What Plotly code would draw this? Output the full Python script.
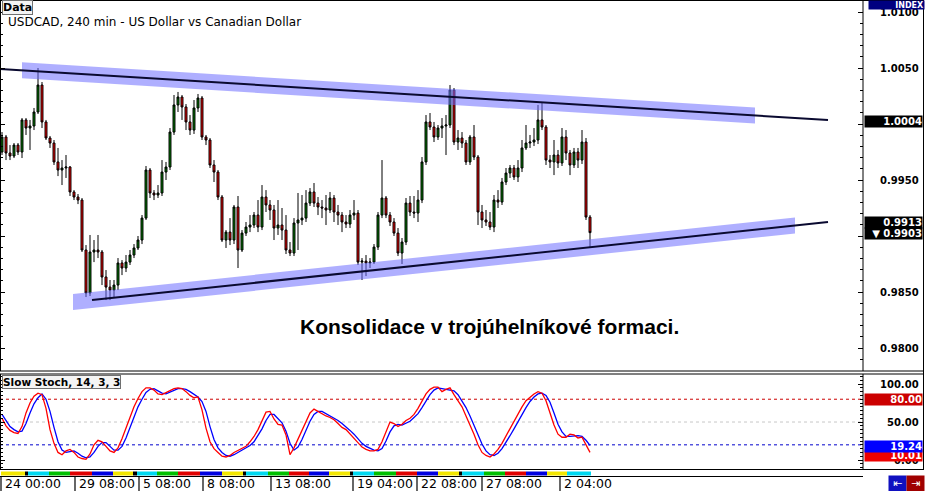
import plotly.graph_objects as go

# ---------------- data ----------------
bars = list(range(148))

open_prices = [
0.99750,0.99884,0.99741,0.99714,0.99812,0.99750,1.00036,0.99964,0.99982,1.00107,
1.00348,1.00018,0.99875,0.99830,0.99661,0.99589,0.99607,0.99616,0.99393,0.99348,
0.99321,0.98875,0.98491,0.98857,0.98875,0.98857,0.98634,0.98544,0.98517,0.98562,
0.98759,0.98714,0.98767,0.98830,0.98893,0.98964,0.99160,0.99589,0.99384,0.99366,
0.99384,0.99571,0.99616,0.99928,1.00170,1.00241,1.00152,1.00018,0.99946,1.00143,
1.00232,0.99884,0.99857,0.99634,0.99571,0.99348,0.98964,0.99035,0.98964,0.99259,
0.98875,0.99026,0.99080,0.99098,0.99187,0.99080,0.99348,0.99277,0.99232,0.99071,
0.99098,0.99053,0.98875,0.98848,0.99116,0.99143,0.99160,0.99294,0.99393,0.99294,
0.99259,0.99250,0.99232,0.99339,0.99214,0.99187,0.99125,0.99107,0.99187,0.99205,
0.98767,0.98776,0.98759,0.98767,0.98901,0.99187,0.99339,0.99187,0.99125,0.99026,
0.98848,0.98946,0.99294,0.99214,0.99205,0.99321,0.99661,1.00018,0.99973,0.99884,
0.99964,0.99982,0.99991,1.00303,0.99839,0.99875,0.99830,0.99661,0.99884,0.99705,
0.99214,0.99143,0.99125,0.99080,0.99321,0.99303,0.99482,0.99562,0.99607,0.99527,
0.99607,0.99786,0.99830,0.99839,0.99857,1.00036,0.99973,0.99678,0.99661,0.99723,
0.99652,0.99884,0.99741,0.99634,0.99750,0.99678,0.99839,0.99169]

high_prices = [
0.99928,0.99902,0.99812,0.99830,0.99830,1.00053,1.00053,1.00036,1.00143,1.00500,
1.00375,1.00036,0.99893,0.99857,0.99786,0.99678,0.99723,0.99625,0.99410,0.99375,
0.99339,0.98919,0.99009,0.98964,0.99009,0.98875,0.98696,0.98607,0.98607,0.98803,
0.98785,0.98830,0.98875,0.98928,0.99000,0.99187,0.99625,0.99607,0.99410,0.99455,
0.99678,0.99661,0.99964,1.00259,1.00286,1.00259,1.00178,1.00080,1.00214,1.00268,
1.00250,0.99902,0.99875,0.99678,0.99589,0.99366,0.99053,0.99160,0.99277,0.99357,
0.99053,0.99125,0.99187,0.99214,0.99321,0.99455,0.99410,0.99321,0.99277,0.99321,
0.99250,0.99187,0.98946,0.99160,0.99384,0.99366,0.99410,0.99428,0.99473,0.99348,
0.99321,0.99366,0.99393,0.99366,0.99277,0.99214,0.99187,0.99232,0.99321,0.99232,
0.98803,0.98830,0.98803,0.98928,0.99214,0.99678,0.99357,0.99214,0.99160,0.99071,
0.98982,0.99339,0.99357,0.99357,0.99410,0.99705,1.00080,1.00098,1.00018,0.99991,
1.00053,1.00080,1.00348,1.00321,0.99946,0.99928,0.99857,0.99902,0.99991,0.99723,
0.99277,0.99232,0.99214,0.99366,0.99410,0.99518,0.99607,0.99634,0.99634,0.99678,
0.99857,0.99991,0.99902,0.99964,1.00170,1.00187,0.99991,0.99723,0.99857,0.99768,
0.99964,0.99946,0.99768,0.99786,0.99786,0.99946,0.99875,0.99187]

low_prices = [
0.99723,0.99678,0.99678,0.99696,0.99723,0.99696,0.99902,0.99768,0.99946,1.00089,
0.99964,0.99857,0.99786,0.99634,0.99535,0.99455,0.99518,0.99357,0.99321,0.99285,
0.98857,0.98455,0.98464,0.98767,0.98803,0.98562,0.98428,0.98428,0.98446,0.98517,
0.98651,0.98678,0.98741,0.98803,0.98875,0.98928,0.99143,0.99339,0.99321,0.99339,
0.99357,0.99500,0.99589,0.99902,1.00107,1.00036,0.99946,0.99902,0.99911,1.00107,
0.99857,0.99812,0.99607,0.99482,0.99321,0.98946,0.98893,0.98919,0.98928,0.98714,
0.98857,0.99000,0.99035,0.99071,0.99035,0.99053,0.99214,0.99143,0.98964,0.99009,
0.98964,0.98839,0.98821,0.98821,0.98875,0.99098,0.99125,0.99268,0.99259,0.99187,
0.99160,0.99098,0.99205,0.99125,0.99098,0.99035,0.99071,0.99071,0.99143,0.98741,
0.98607,0.98642,0.98714,0.98750,0.98875,0.99160,0.99160,0.99089,0.99000,0.98821,
0.98750,0.98919,0.99178,0.99160,0.99125,0.99294,0.99634,0.99946,0.99839,0.99857,
0.99875,0.99723,0.99964,0.99812,0.99768,0.99786,0.99634,0.99634,0.99678,0.99098,
0.99071,0.99089,0.99053,0.99035,0.99250,0.99277,0.99455,0.99518,0.99500,0.99482,
0.99571,0.99768,0.99786,0.99803,0.99821,0.99946,0.99634,0.99607,0.99544,0.99607,
0.99625,0.99678,0.99544,0.99607,0.99607,0.99643,0.99143,0.98893]

close_prices = [
0.99884,0.99741,0.99714,0.99812,0.99750,1.00036,0.99964,0.99982,1.00107,1.00348,
1.00018,0.99875,0.99830,0.99661,0.99589,0.99607,0.99616,0.99393,0.99348,0.99321,
0.98875,0.98491,0.98857,0.98875,0.98857,0.98634,0.98544,0.98517,0.98562,0.98759,
0.98714,0.98767,0.98830,0.98893,0.98964,0.99160,0.99589,0.99384,0.99366,0.99384,
0.99571,0.99616,0.99928,1.00170,1.00241,1.00152,1.00018,0.99946,1.00143,1.00232,
0.99884,0.99857,0.99634,0.99571,0.99348,0.98964,0.99035,0.98964,0.99259,0.98875,
0.99026,0.99080,0.99098,0.99187,0.99080,0.99348,0.99277,0.99232,0.99071,0.99098,
0.99053,0.98875,0.98848,0.99116,0.99143,0.99160,0.99294,0.99393,0.99294,0.99259,
0.99250,0.99232,0.99339,0.99214,0.99187,0.99125,0.99107,0.99187,0.99205,0.98767,
0.98776,0.98759,0.98767,0.98901,0.99187,0.99339,0.99187,0.99125,0.99026,0.98848,
0.98946,0.99294,0.99214,0.99205,0.99321,0.99661,1.00018,0.99973,0.99884,0.99964,
0.99982,0.99991,1.00303,0.99839,0.99875,0.99830,0.99661,0.99884,0.99705,0.99214,
0.99143,0.99125,0.99080,0.99321,0.99303,0.99482,0.99562,0.99607,0.99527,0.99607,
0.99786,0.99830,0.99839,0.99857,1.00036,0.99973,0.99678,0.99661,0.99723,0.99652,
0.99884,0.99741,0.99634,0.99750,0.99678,0.99839,0.99169,0.99030]

stoch_main = [
55,45,39,36,35,44,62,75,84,88,
86,68,40,22,10,7,12,14,10,4,
2,1,8,20,26,24,18,12,10,16,
28,42,58,70,81,90,95,95,92,87,
86,89,92,94,95,94,90,85,82,83,
66,42,24,15,10,5,4,6,10,13,
15,18,24,31,40,52,63,64,54,47,
46,33,7,16,28,40,52,62,67,64,
60,58,56,53,48,43,40,34,28,22,
17,14,12,12,14,24,38,50,48,44,
47,52,55,60,68,78,87,93,96,96,
90,93,95,86,78,70,58,47,34,20,
10,6,4,8,14,22,32,42,50,60,
70,78,83,87,90,88,78,62,46,34,
30,30,34,33,29,30,20,10.01]

stoch_signal = [
60,52,44,40,37,38,48,62,74,82,
87,80,64,43,24,13,10,11,12,9,
5,3,4,10,18,23,23,18,13,13,
18,29,43,57,70,80,89,93,94,91,
88,87,89,92,94,94,93,90,86,83,
77,64,44,27,16,10,6,5,7,10,
13,15,19,24,32,41,52,60,60,55,
49,38,22,13,17,27,40,51,60,64,
64,61,58,56,52,48,44,39,34,28,
22,18,15,13,12,15,25,37,45,47,
46,48,51,56,61,69,78,86,92,95,
94,93,93,91,86,78,69,58,46,34,
21,12,7,6,9,15,23,32,41,51,
60,69,77,83,87,88,85,76,62,47,
37,31,31,32,32,31,26,19.24]

price_tick_vals = [0.9800, 0.9850, 0.9900, 0.9950, 1.0000, 1.0050, 1.0100]
price_tick_text = ["0.9800", "0.9850", "", "0.9950", "", "1.0050", "1.0100"]
stoch_tick_vals = [0, 50, 100]
stoch_tick_text = ["0.00", "50.00", "100.00"]
stoch_levels = [80, 50, 20]
stoch_level_colors = ["#cc0000", "#c8c8c8", "#0000cc"]

date_tick_bars = [-0.25, 18.25, 34.25, 50.25, 67.25, 87.75, 103.75, 120.0, 139.5]
date_tick_text = ["24 00:00", "29 08:00", "5 08:00", "8 08:00", "13 08:00",
                  "19 04:00", "22 08:00", "27 08:00", "2 04:00"]

upper_trend_x = [-0.5, 206.5]
upper_trend_y = [1.00491, 1.00036]
lower_trend_x = [22.5, 206.5]
lower_trend_y = [0.98428, 0.99125]
upper_band_x = [5.0, 188.25]
lower_band_x = [17.75, 198.25]

strip_edges = [-0.25, 5.75, 6.5, 11.75, 17.0, 22.5, 27.75, 32.75, 33.75, 38.75, 44.0,
               49.5, 55.0, 60.25, 61.0, 66.5, 71.75, 76.75, 81.75, 87.0, 87.75, 93.0,
               98.5, 103.75, 109.0, 114.25, 115.0, 120.5, 125.75, 131.0, 136.25,
               141.25, 147.25]
strip_codes = ["Y", "K"] + ["C", "G", "R", "B", "Y", "K"] * 4 + ["C", "G", "R", "B", "Y", "C"]
strip_palette = {"Y": "#f2e600", "K": "#000000", "C": "#00d8f0", "G": "#00c000",
                 "R": "#e00000", "B": "#0000e0"}

upper_line_label = 1.0004
lower_line_label = 0.9913
last_close_label = 0.9903

# ---------------- geometry helpers ----------------
W, H = 925, 491
PW, PH = 863, 469            # plot area (margin r=62, b=22)
PRICE_RANGE = [0.977946, 1.011071]
STOCH_RANGE = [-11.8, 113.2]
PRICE_DOMAIN = [(PH - 371) / PH, 1.0]
STOCH_DOMAIN = [0.0, (PH - 374) / PH]


def pxx(x):
    return x / PW


def pxy(y):
    return (PH - y) / PH


def line_at(xa, xs, ys):
    return ys[0] + (ys[1] - ys[0]) * (xa - xs[0]) / (xs[1] - xs[0])


price_per_px = (PRICE_RANGE[1] - PRICE_RANGE[0]) / 371.0
band_half = 8 * price_per_px

fig = go.Figure()

fig.add_trace(go.Candlestick(
    x=bars, open=open_prices, high=high_prices, low=low_prices, close=close_prices,
    increasing=dict(line=dict(color="black", width=1), fillcolor="#008000"),
    decreasing=dict(line=dict(color="black", width=1), fillcolor="#ff0000"),
    whiskerwidth=0, showlegend=False, hoverinfo="skip", xaxis="x", yaxis="y"))

for bx, tx, ty in [(upper_band_x, upper_trend_x, upper_trend_y),
                   (lower_band_x, lower_trend_x, lower_trend_y)]:
    a, b = bx
    ya, yb = line_at(a, tx, ty), line_at(b, tx, ty)
    fig.add_trace(go.Scatter(
        x=[a, b, b, a, a],
        y=[ya + band_half, yb + band_half, yb - band_half, ya - band_half, ya + band_half],
        fill="toself", fillcolor="rgba(110,110,255,0.55)", line=dict(width=0),
        mode="lines", showlegend=False, hoverinfo="skip", xaxis="x", yaxis="y"))

for tx, ty in [(upper_trend_x, upper_trend_y), (lower_trend_x, lower_trend_y)]:
    fig.add_trace(go.Scatter(x=tx, y=ty, mode="lines",
                             line=dict(color="#0a0a30", width=2),
                             showlegend=False, hoverinfo="skip", xaxis="x", yaxis="y"))

fig.add_trace(go.Scatter(x=bars, y=stoch_signal, mode="lines",
                         line=dict(color="#0000ff", width=1.3),
                         showlegend=False, hoverinfo="skip", xaxis="x", yaxis="y2"))
fig.add_trace(go.Scatter(x=bars, y=stoch_main, mode="lines",
                         line=dict(color="#ff0000", width=1.3),
                         showlegend=False, hoverinfo="skip", xaxis="x", yaxis="y2"))

shapes = []
# stochastic level lines
for lv, col in zip(stoch_levels, stoch_level_colors):
    shapes.append(dict(type="line", xref="paper", yref="y2", x0=0, x1=1, y0=lv, y1=lv,
                       line=dict(color=col, width=1, dash="dot"), layer="below"))

# frame lines
frame = dict(color="black", width=1)
for yy in [0.5, 371, 374, 469.5]:
    shapes.append(dict(type="line", xref="paper", yref="paper", x0=0, x1=pxx(924),
                       y0=pxy(yy), y1=pxy(yy), line=frame))
for xx in [0.5, 863]:
    shapes.append(dict(type="line", xref="paper", yref="paper", x0=pxx(xx), x1=pxx(xx),
                       y0=pxy(371), y1=1, line=frame))
    shapes.append(dict(type="line", xref="paper", yref="paper", x0=pxx(xx), x1=pxx(xx),
                       y0=0, y1=pxy(374), line=frame))
shapes.append(dict(type="line", xref="paper", yref="paper", x0=pxx(923.5), x1=pxx(923.5),
                   y0=pxy(470), y1=1, line=frame))
# day colour strip below the stochastic panel
for i, code in enumerate(strip_codes):
    shapes.append(dict(type="rect", xref="x", yref="paper",
                       x0=strip_edges[i], x1=strip_edges[i + 1],
                       y0=pxy(475.5), y1=pxy(471.5),
                       fillcolor=strip_palette[code], line=dict(width=0)))
shapes.append(dict(type="line", xref="paper", yref="paper", x0=0, x1=1,
                   y0=pxy(476.5), y1=pxy(476.5), line=frame))
# date separators
for tb in date_tick_bars:
    shapes.append(dict(type="line", xref="x", yref="paper", x0=tb, x1=tb,
                       y0=pxy(491), y1=pxy(476.5), line=dict(color="black", width=1.2)))

annotations = []
FONT = "DejaVu Sans"
# title + labels
annotations.append(dict(text="<b>Data</b>", xref="paper", yref="paper", x=pxx(2), y=1,
                        xanchor="left", yanchor="top", showarrow=False,
                        font=dict(family=FONT, size=11, color="black"),
                        bgcolor="#f4f4f4", bordercolor="#707070", borderwidth=1, borderpad=0))
annotations.append(dict(text="USDCAD, 240 min - US Dollar vs Canadian Dollar", xref="paper",
                        yref="paper", x=pxx(6), y=pxy(22), xanchor="left", yanchor="middle",
                        showarrow=False, font=dict(family=FONT, size=12, color="black")))
annotations.append(dict(text="<b>Slow Stoch, 14, 3, 3</b>", xref="paper", yref="paper",
                        x=pxx(2), y=pxy(374.5), xanchor="left", yanchor="top", showarrow=False,
                        font=dict(family=FONT, size=10.5, color="black"),
                        bgcolor="#f4f4f4", bordercolor="#707070", borderwidth=1, borderpad=0))
annotations.append(dict(text="<b>Konsolidace v trojúhelníkové formaci.</b>", xref="paper",
                        yref="paper", x=pxx(489), y=pxy(327), xanchor="center",
                        yanchor="middle", showarrow=False,
                        font=dict(family="Liberation Sans", size=21, color="black")))

# right axis labels
RX = pxx(921)
for v, t in zip(price_tick_vals, price_tick_text):
    if t:
        annotations.append(dict(text="<b>%s</b>" % t, xref="paper", yref="y", x=RX, y=v,
                                xanchor="right", yanchor="middle", showarrow=False,
                                font=dict(family=FONT, size=10, color="black")))
for v, t in zip(stoch_tick_vals, stoch_tick_text):
    annotations.append(dict(text="<b>%s</b>" % t, xref="paper", yref="y2", x=RX, y=v,
                            xanchor="right", yanchor="middle", showarrow=False,
                            font=dict(family=FONT, size=10, color="black")))


def value_box(text, yref, yv, bg, yshift=0):
    return dict(text="<b>%s</b>" % text, xref="paper", yref=yref, x=pxx(864), y=yv,
                xanchor="left", yanchor="middle", showarrow=False, width=57, height=11,
                align="right", bgcolor=bg, borderpad=0, yshift=yshift,
                font=dict(family=FONT, size=10, color="white"))


annotations.append(value_box("%.4f" % upper_line_label, "y", upper_line_label, "black", -2))
annotations.append(value_box("%.4f" % lower_line_label, "y", lower_line_label, "black", -1))
annotations.append(value_box("▼ %.4f" % last_close_label, "y", last_close_label, "black", -1))
annotations.append(value_box("%.2f" % stoch_levels[0], "y2", stoch_levels[0], "#cc0000"))
annotations.append(value_box("%.2f" % stoch_main[-1], "y2", stoch_main[-1], "#ee0000", -3))
annotations.append(value_box("%.2f" % stoch_signal[-1], "y2", stoch_signal[-1], "#0000ff", -1))

# INDEX tag and navigation buttons
annotations.append(dict(text="<b>INDEX</b>", xref="paper", yref="paper", x=pxx(868), y=1,
                        xanchor="left", yanchor="top", showarrow=False, width=55, height=8,
                        align="right", bgcolor="#000080", borderpad=0,
                        font=dict(family=FONT, size=8, color="white")))
annotations.append(dict(text="⇤", xref="paper", yref="paper", x=pxx(888), y=pxy(483),
                        xanchor="left", yanchor="middle", showarrow=False, width=17, height=15,
                        bgcolor="#1010c0", borderpad=0,
                        font=dict(family=FONT, size=11, color="white")))
annotations.append(dict(text="⇥", xref="paper", yref="paper", x=pxx(906), y=pxy(483),
                        xanchor="left", yanchor="middle", showarrow=False, width=17, height=15,
                        bgcolor="#a00000", borderpad=0,
                        font=dict(family=FONT, size=11, color="white")))

# date labels
for tb, t in zip(date_tick_bars, date_tick_text):
    annotations.append(dict(text=t, xref="x", yref="paper", x=tb + 0.45, y=pxy(483.5),
                            xanchor="left", yanchor="middle", showarrow=False,
                            font=dict(family=FONT, size=12.5, color="black")))

fig.update_layout(
    width=W, height=H, autosize=False,
    margin=dict(l=0, r=W - PW, t=0, b=H - PH, pad=0),
    paper_bgcolor="white", plot_bgcolor="white",
    showlegend=False,
    xaxis=dict(range=[-0.5, 215.25], domain=[0, 1], anchor="y2", showticklabels=False,
               showgrid=False, zeroline=False, ticks="", showline=False,
               rangeslider=dict(visible=False), fixedrange=True),
    yaxis=dict(domain=PRICE_DOMAIN, range=PRICE_RANGE, side="right", anchor="x",
               tickmode="array", tickvals=price_tick_vals, showticklabels=False,
               ticks="inside", ticklen=5, tickcolor="black", mirror="allticks",
               showgrid=False, zeroline=False, showline=False, fixedrange=True,
               minor=dict(dtick=0.001, tick0=0.98, ticks="inside", ticklen=3,
                          tickcolor="black", showgrid=False)),
    yaxis2=dict(domain=STOCH_DOMAIN, range=STOCH_RANGE, side="right", anchor="x",
                tickmode="array", tickvals=stoch_tick_vals, showticklabels=False,
                ticks="inside", ticklen=5, tickcolor="black", mirror="allticks",
                showgrid=False, zeroline=False, showline=False, fixedrange=True,
                minor=dict(dtick=5, tick0=0, ticks="inside", ticklen=3,
                           tickcolor="black", showgrid=False)),
    shapes=shapes,
    annotations=annotations,
)

fig.write_html("out.html", config={"displayModeBar": False},
               post_script="document.body.style.margin='0px';document.body.style.overflow='hidden';")
